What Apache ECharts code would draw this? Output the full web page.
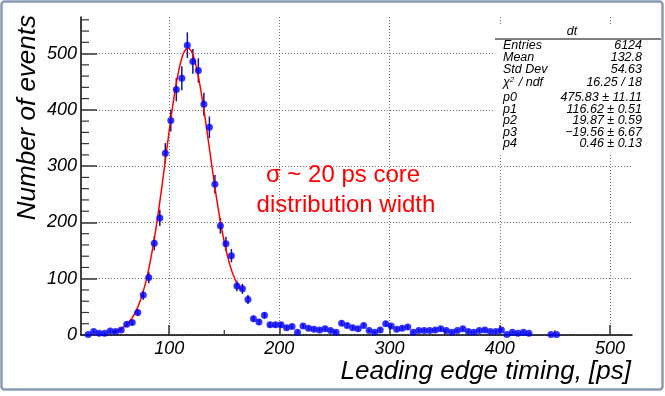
<!DOCTYPE html>
<html>
<head>
<meta charset="utf-8">
<script src="https://cdn.jsdelivr.net/npm/echarts@6/dist/echarts.min.js"></script>
<style>
  html, body { margin: 0; padding: 0; background: #fff; }
  #chart { width: 665px; height: 396px; }
</style>
</head>
<body>
<div id="chart"></div>
<script>
const binCenters = [
  26.5, 31.5, 36.5, 41.5, 46.5, 51.5, 56.5, 61.5, 66.5, 71.5,
  76.5, 81.5, 86.5, 91.5, 96.5, 101.5, 106.5, 111.5, 116.5, 121.5,
  126.5, 131.5, 136.5, 141.5, 146.5, 151.5, 156.5, 161.5, 166.5, 171.5,
  176.5, 181.5, 186.5, 191.5, 196.5, 201.5, 206.5, 211.5, 216.5, 221.5,
  226.5, 231.5, 236.5, 241.5, 246.5, 251.5, 256.5, 261.5, 266.5, 271.5,
  276.5, 281.5, 286.5, 291.5, 296.5, 301.5, 306.5, 311.5, 316.5, 321.5,
  326.5, 331.5, 336.5, 341.5, 346.5, 351.5, 356.5, 361.5, 366.5, 371.5,
  376.5, 381.5, 386.5, 391.5, 396.5, 401.5, 406.5, 411.5, 416.5, 421.5,
  426.5, 431.5, 436.5, 441.5, 446.5, 451.5
]
const counts = [
  1, 6, 3, 3, 7, 6, 9, 19, 22, 40,
  71, 102, 163, 208, 323, 381, 436, 456, 515, 486,
  470, 410, 369, 268, 194, 162, 141, 87, 82, 63,
  29, 23, 35, 18, 18, 18, 13, 15, 5, 16,
  12, 10, 9, 11, 8, 5, 21, 17, 13, 11,
  17, 8, 5, 9, 20, 16, 10, 12, 14, 5,
  8, 8, 8, 9, 11, 8, 5, 8, 11, 6,
  5, 8, 9, 6, 6, 9, 1, 5, 3, 5,
  3, 0, 0, 0, 1, 1
]
// gaus(p0,p1,p2) + pol1(p3,p4)
const fitParams = [475.83, 116.62, 19.87, -19.56, 0.46]
const fitRange = [50, 165]

const xMajorTicks = [100, 200, 300, 400, 500]
const xMinorTicks = [50, 150, 250, 350, 450]
const yMajorTicks = [0, 100, 200, 300, 400, 500]
const yMinorTicks = [20, 40, 60, 80, 120, 140, 160, 180, 220, 240, 260, 280, 320, 340, 360, 380, 420, 440, 460, 480, 520, 540, 560]

const statsTitle = 'dt'
const statsLabels = ['Entries', 'Mean', 'Std Dev', '{g|χ}{s|2}{g| / ndf}', 'p0', 'p1', 'p2', 'p3', 'p4']
const statsValues = ['6124', '132.8', '54.63', '16.25 / 18', '475.83 ± 11.11', '116.62 ± 0.51', '19.87 ± 0.59', '\u221219.56 ± 6.67', '0.46 ± 0.13']
const statsRowY = [45.5, 58, 70, 82.5, 98, 109.5, 121, 132.5, 144]

const X_MIN = 20
const X_MAX = 520
const Y_MAX = 565
const FONT = '"Liberation Sans", Arial, Helvetica, sans-serif'

const fitFunc = (x) => {
  const [p0, p1, p2, p3, p4] = fitParams
  const t = (x - p1) / p2
  return p0 * Math.exp(-0.5 * t * t) + p3 + p4 * x
}

const points = []
const errors = []
binCenters.forEach((x, i) => {
  if (counts[i] > 0) {
    points.push([x, counts[i]])
    errors.push([x, counts[i], Math.sqrt(counts[i])])
  }
})

const fitCurve = []
for (let x = fitRange[0]; x <= fitRange[1]; x += 1) {
  fitCurve.push([x, fitFunc(x)])
}

const tickLine = (p, dx, dy) => ({
  type: 'line',
  shape: { x1: p[0], y1: p[1], x2: p[0] + dx, y2: p[1] + dy },
  style: { stroke: '#333', lineWidth: 1.2 }
})

const chart = echarts.init(document.getElementById('chart'))

const statsGraphics = [
  {
    type: 'rect',
    z: 100,
    shape: { x: 495, y: 25, width: 166, height: 128 },
    style: { fill: '#fff' }
  },
  {
    type: 'line',
    z: 101,
    shape: { x1: 495, y1: 39, x2: 661, y2: 39 },
    style: { stroke: '#000', lineWidth: 1 }
  },
  {
    type: 'text',
    z: 101,
    x: 572,
    y: 32,
    style: { text: statsTitle, fill: '#000', font: 'italic 12.5px ' + FONT, align: 'center', verticalAlign: 'middle' }
  }
]
statsLabels.forEach((label, i) => {
  statsGraphics.push({
    type: 'text',
    z: 101,
    x: 503,
    y: statsRowY[i],
    style: {
      text: label,
      fill: '#000',
      font: 'italic 12.5px ' + FONT,
      align: 'left',
      verticalAlign: 'middle',
      rich: {
        g: { fontSize: 12.5, fontStyle: 'italic', fontFamily: FONT },
        s: { fontSize: 8, fontStyle: 'italic', fontFamily: FONT, verticalAlign: 'top', padding: [0, 1, 6, 0] }
      }
    }
  })
  statsGraphics.push({
    type: 'text',
    z: 101,
    x: 642,
    y: statsRowY[i],
    style: { text: statsValues[i], fill: '#000', font: 'italic 12.5px ' + FONT, align: 'right', verticalAlign: 'middle' }
  })
})

const option = {
  animation: false,
  backgroundColor: '#fff',
  grid: { left: 81, right: 33, top: 17, bottom: 61 },
  xAxis: {
    type: 'value',
    min: X_MIN,
    max: X_MAX,
    axisLine: { lineStyle: { color: '#000', width: 1.5 } },
    axisTick: {
      inside: true,
      length: 10,
      customValues: xMajorTicks,
      lineStyle: { color: '#333', width: 1.5 }
    },
    axisLabel: {
      customValues: xMajorTicks,
      color: '#000',
      fontSize: 18,
      fontStyle: 'italic',
      fontFamily: FONT,
      margin: 5
    },
    splitLine: { show: true, lineStyle: { color: '#777', width: 1, type: [1, 2] } }
  },
  yAxis: {
    type: 'value',
    min: 0,
    max: Y_MAX,
    axisLine: { show: true, lineStyle: { color: '#000', width: 1.5 } },
    axisTick: {
      show: true,
      inside: true,
      length: 16,
      customValues: yMajorTicks,
      lineStyle: { color: '#333', width: 1.5 }
    },
    axisLabel: {
      customValues: yMajorTicks,
      color: '#000',
      fontSize: 18,
      fontStyle: 'italic',
      fontFamily: FONT,
      margin: 4
    },
    splitLine: { show: true, lineStyle: { color: '#777', width: 1, type: [1, 2] } }
  },
  graphic: [
    {
      type: 'rect',
      z: 100,
      shape: { x: 1.5, y: 1.5, width: 661, height: 388, r: 3 },
      style: { fill: 'none', stroke: '#8a9ab5', lineWidth: 2.5 }
    },
    {
      type: 'text',
      z: 100,
      x: 28,
      y: 15,
      rotation: Math.PI / 2,
      style: { text: 'Number of events', fill: '#000', font: 'italic 26px ' + FONT, align: 'right', verticalAlign: 'middle' }
    },
    {
      type: 'text',
      z: 100,
      x: 631,
      y: 372,
      style: { text: 'Leading edge timing, [ps]', fill: '#000', font: 'italic 26px ' + FONT, align: 'right', verticalAlign: 'middle' }
    },
    {
      type: 'text',
      z: 100,
      x: 343,
      y: 175,
      style: { text: 'σ ~ 20 ps core', fill: '#ff0000', font: '24px ' + FONT, align: 'center', verticalAlign: 'middle' }
    },
    {
      type: 'text',
      z: 100,
      x: 346,
      y: 205,
      style: { text: 'distribution width', fill: '#ff0000', font: '24px ' + FONT, align: 'center', verticalAlign: 'middle' }
    },
    ...statsGraphics
  ],
  series: [
    {
      type: 'custom',
      name: 'xMinorTicks',
      data: xMinorTicks.map((v) => [v, 0]),
      silent: true,
      renderItem: (params, api) => tickLine(api.coord([api.value(0), 0]), 0, -5)
    },
    {
      type: 'custom',
      name: 'yMinorTicks',
      data: yMinorTicks.map((v) => [X_MIN, v]),
      silent: true,
      renderItem: (params, api) => tickLine(api.coord([X_MIN, api.value(1)]), 8, 0)
    },
    {
      type: 'custom',
      name: 'errors',
      data: errors,
      z: 3,
      renderItem: (params, api) => {
        const lo = api.coord([api.value(0), api.value(1) - api.value(2)])
        const hi = api.coord([api.value(0), api.value(1) + api.value(2)])
        return {
          type: 'line',
          shape: { x1: lo[0], y1: lo[1], x2: hi[0], y2: hi[1] },
          style: { stroke: '#16168c', lineWidth: 1.5 }
        }
      }
    },
    {
      type: 'line',
      name: 'fit',
      data: fitCurve,
      showSymbol: false,
      z: 4,
      lineStyle: { color: '#ff0000', width: 1.5 }
    },
    {
      type: 'scatter',
      name: 'dt',
      data: points,
      symbol: 'circle',
      symbolSize: 7,
      z: 5,
      itemStyle: { color: '#0000ff' }
    }
  ]
}
option && chart.setOption(option)
</script>
</body>
</html>
